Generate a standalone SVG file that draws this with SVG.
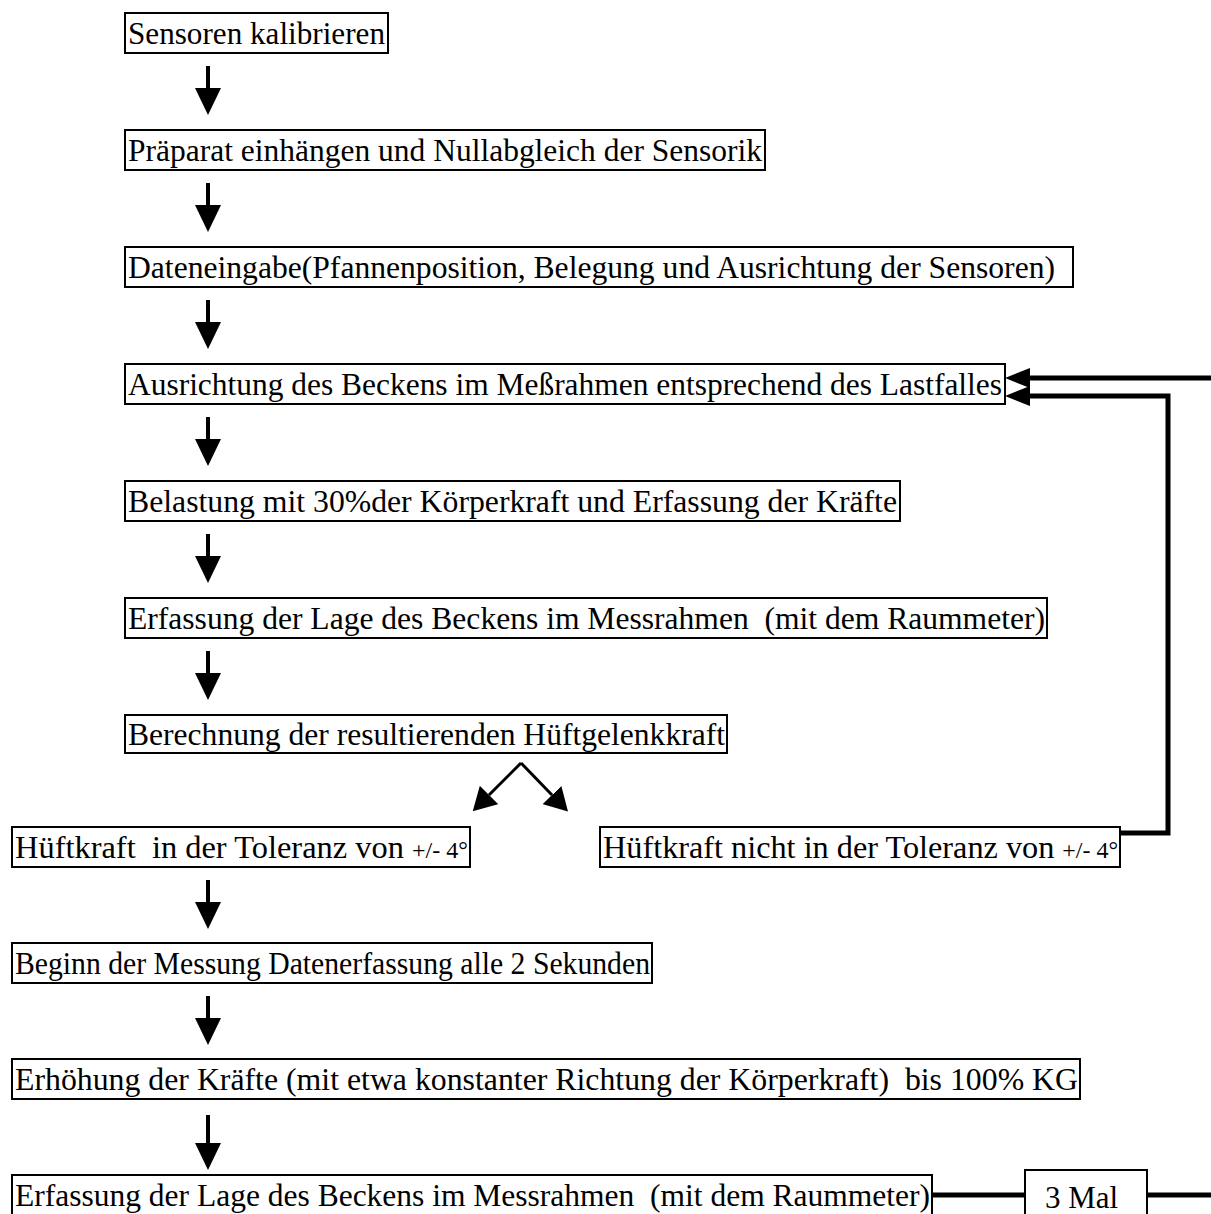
<svg xmlns="http://www.w3.org/2000/svg" width="1211" height="1214" viewBox="0 0 1211 1214">
<style>
.box{fill:#fff;stroke:#000;stroke-width:2}
.t{font-family:"Liberation Serif","Times New Roman",serif;font-size:31px;fill:#000}
.s{font-size:23px}
.sh{stroke:#000;stroke-width:4;fill:none}
.dg{stroke:#000;stroke-width:3;fill:none}
.lp{stroke:#000;stroke-width:5;fill:none}
</style>
<defs>
<marker id="ah" markerUnits="userSpaceOnUse" markerWidth="27" markerHeight="26" refX="0" refY="13" orient="auto" viewBox="0 0 27 26"><path d="M0,0 L27,13 L0,26 z" fill="#000"/></marker>
<marker id="ahd" markerUnits="userSpaceOnUse" markerWidth="23" markerHeight="26" refX="0" refY="13" orient="auto" viewBox="0 0 23 26"><path d="M0,0 L23,13 L0,26 z" fill="#000"/></marker>
<marker id="ahl" markerUnits="userSpaceOnUse" markerWidth="25" markerHeight="20" refX="0" refY="10" orient="auto" viewBox="0 0 25 20"><path d="M0,0 L25,10 L0,20 z" fill="#000"/></marker>
</defs>
<g id="connectors">
<line class="sh" x1="208" y1="66" x2="208" y2="88" marker-end="url(#ah)"/>
<line class="sh" x1="208" y1="183" x2="208" y2="205" marker-end="url(#ah)"/>
<line class="sh" x1="208" y1="300" x2="208" y2="322" marker-end="url(#ah)"/>
<line class="sh" x1="208" y1="417" x2="208" y2="439" marker-end="url(#ah)"/>
<line class="sh" x1="208" y1="534" x2="208" y2="556" marker-end="url(#ah)"/>
<line class="sh" x1="208" y1="651" x2="208" y2="673" marker-end="url(#ah)"/>
<line class="dg" x1="521" y1="763" x2="489" y2="795" marker-end="url(#ahd)"/>
<line class="dg" x1="521" y1="763" x2="552" y2="795" marker-end="url(#ahd)"/>
<line class="sh" x1="208" y1="880" x2="208" y2="902" marker-end="url(#ah)"/>
<line class="sh" x1="208" y1="996" x2="208" y2="1018" marker-end="url(#ah)"/>
<line class="sh" x1="208" y1="1115" x2="208" y2="1143" marker-end="url(#ah)"/>
<path class="lp" d="M1120,833 H1168 V396 H1030" marker-end="url(#ahl)"/>
<path class="lp" d="M1211,378 H1030" marker-end="url(#ahl)"/>
<path class="lp" d="M932,1195 H1025"/>
<path class="lp" d="M1147,1195 H1211"/>
</g>
<g id="n1"><rect class="box" x="125" y="13" width="263" height="40"/><text class="t" x="128" y="44" textLength="257" lengthAdjust="spacingAndGlyphs">Sensoren kalibrieren</text></g>
<g id="n2"><rect class="box" x="125" y="130" width="640" height="40"/><text class="t" x="128" y="161" textLength="634" lengthAdjust="spacingAndGlyphs">Präparat einhängen und Nullabgleich der Sensorik</text></g>
<g id="n3"><rect class="box" x="125" y="247" width="948" height="40"/><text class="t" x="128" y="278" textLength="927" lengthAdjust="spacingAndGlyphs">Dateneingabe(Pfannenposition, Belegung und Ausrichtung der Sensoren)</text></g>
<g id="n4"><rect class="box" x="125" y="364" width="880" height="40"/><text class="t" x="128" y="395" textLength="874" lengthAdjust="spacingAndGlyphs">Ausrichtung des Beckens im Meßrahmen entsprechend des Lastfalles</text></g>
<g id="n5"><rect class="box" x="125" y="481" width="775" height="40"/><text class="t" x="128" y="512" textLength="769" lengthAdjust="spacingAndGlyphs">Belastung mit 30%der Körperkraft und Erfassung der Kräfte</text></g>
<g id="n6"><rect class="box" x="125" y="598" width="922" height="40"/><text class="t" x="128" y="629" xml:space="preserve" textLength="917" lengthAdjust="spacingAndGlyphs">Erfassung der Lage des Beckens im Messrahmen  (mit dem Raummeter)</text></g>
<g id="n7"><rect class="box" x="125" y="715" width="602" height="38"/><text class="t" x="128" y="745" textLength="597" lengthAdjust="spacingAndGlyphs">Berechnung der resultierenden Hüftgelenkkraft</text></g>
<g id="n8"><rect class="box" x="12" y="827" width="458" height="40"/><text class="t" x="15" y="858" xml:space="preserve" textLength="453" lengthAdjust="spacingAndGlyphs">Hüftkraft  in der Toleranz von <tspan class="s">+/- 4°</tspan></text></g>
<g id="n9"><rect class="box" x="600" y="827" width="520" height="40"/><text class="t" x="603" y="858" textLength="515" lengthAdjust="spacingAndGlyphs">Hüftkraft nicht in der Toleranz von <tspan class="s">+/- 4°</tspan></text></g>
<g id="n10"><rect class="box" x="12" y="943" width="640" height="40"/><text class="t" x="15" y="974" textLength="635" lengthAdjust="spacingAndGlyphs">Beginn der Messung Datenerfassung alle 2 Sekunden</text></g>
<g id="n11"><rect class="box" x="12" y="1059" width="1068" height="40"/><text class="t" x="15" y="1090" xml:space="preserve" textLength="1063" lengthAdjust="spacingAndGlyphs">Erhöhung der Kräfte (mit etwa konstanter Richtung der Körperkraft)  bis 100% KG</text></g>
<g id="n12"><rect class="box" x="12" y="1175" width="920" height="40"/><text class="t" x="15" y="1206" xml:space="preserve" textLength="915" lengthAdjust="spacingAndGlyphs">Erfassung der Lage des Beckens im Messrahmen  (mit dem Raummeter)</text></g>
<g id="n13"><rect class="box" x="1025" y="1170" width="122" height="50"/><text class="t" x="1045" y="1208">3 Mal</text></g>
</svg>
